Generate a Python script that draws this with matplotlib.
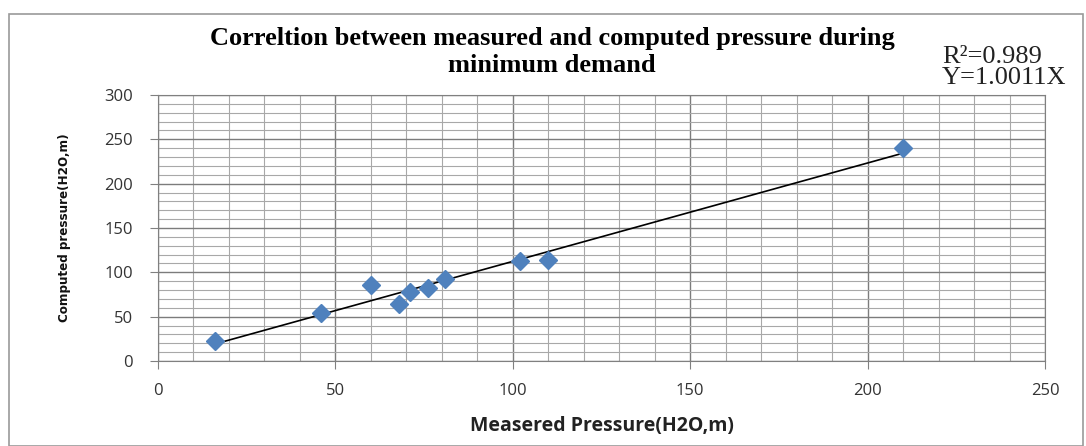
import numpy as np
import matplotlib
matplotlib.use('Agg')
import matplotlib.pyplot as plt
from matplotlib.patches import Rectangle
from matplotlib.ticker import MultipleLocator

## values
measured = [16, 46, 60, 68, 71, 76, 81, 102, 110, 210]
computed = [22, 54, 86, 64, 78, 82, 93, 113, 114, 240]
title = 'Correltion between measured and computed pressure during\nminimum demand'
r2_text = 'R\u00b2=0.989'
eq_text = 'Y=1.0011X'
xlabel = 'Measered Pressure(H2O,m)'
ylabel = 'Computed pressure(H2O,m)'

W, H = 1086, 446
fig = plt.figure(figsize=(W/100, H/100), dpi=100)
fig.patch.set_facecolor('white')

## outer chart border
fig.patches.append(Rectangle((9/W, 0), (1083-9)/W, 1-14/H, transform=fig.transFigure,
	fill=False, edgecolor='#9a9a9a', linewidth=1.2))

ax = fig.add_axes([158/W, 1-361/H, (1045-158)/W, (361-95)/H])
ax.set_xlim(0, 250)
ax.set_ylim(0, 300)
ax.xaxis.set_major_locator(MultipleLocator(50))
ax.yaxis.set_major_locator(MultipleLocator(50))
ax.xaxis.set_minor_locator(MultipleLocator(10))
ax.yaxis.set_minor_locator(MultipleLocator(10))
ax.grid(which='minor', color='#a8a8a8', linewidth=0.8)
ax.grid(which='major', color='#7c7c7c', linewidth=1.0)
ax.set_axisbelow(True)
for s in ax.spines.values():
	s.set_color('#808080')
ax.tick_params(which='major', direction='out', length=6, color='#808080',
	labelsize=12, labelcolor='#333333')
ax.tick_params(axis='y', pad=12)
ax.tick_params(axis='x', pad=10)
ax.tick_params(which='minor', length=0)
for lab in ax.get_xticklabels() + ax.get_yticklabels():
	lab.set_family(['Open Sans', 'DejaVu Sans'])

## trend line
coef = np.polyfit(measured, computed, 1)
xs = np.array([min(measured), max(measured)])
ax.plot(xs, np.polyval(coef, xs), color='black', linewidth=1.2, zorder=3)
ax.plot(measured, computed, linestyle='none', marker='D', markersize=9,
	color='#4F81BD', markeredgecolor='#4F81BD', zorder=4)

ax.set_xlabel(xlabel, fontsize=14, fontweight='bold', color='#222222',
	family=['Open Sans', 'DejaVu Sans'], labelpad=12)
ax.set_ylabel(ylabel, fontsize=9.5, fontweight='bold', color='#111111',
	family='DejaVu Sans', fontstretch='condensed', labelpad=24)

fig.text(552/W, 1-52/H, title, ha='center', va='center', fontsize=19,
	fontweight='bold', family='Liberation Serif', linespacing=1.25)
fig.text(942/W, 1-57/H, r2_text, ha='left', va='center', fontsize=19,
	family='Liberation Serif', color='#222222')
fig.text(942/W, 1-78/H, eq_text, ha='left', va='center', fontsize=19,
	family='Liberation Serif', color='#222222')

fig.savefig('out.png', dpi=100)
